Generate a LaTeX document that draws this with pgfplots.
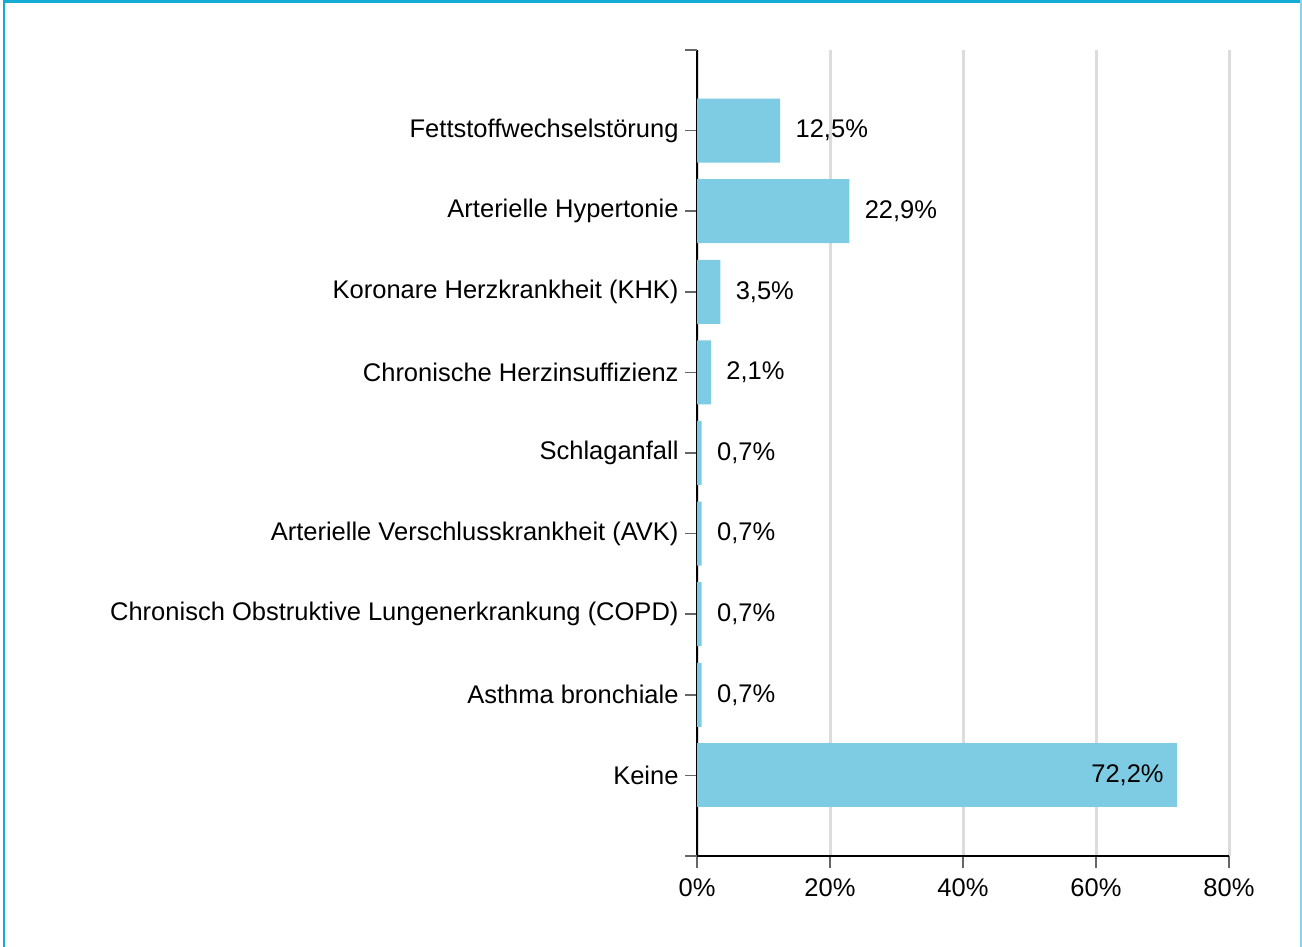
\documentclass[border=0pt]{standalone}
\usepackage{pgfplots}
\pgfplotsset{compat=1.18}
\usepackage{fontspec}
\setmainfont{Liberation Sans}
\definecolor{barblue}{RGB}{126,204,227}
\definecolor{framecol}{RGB}{20,172,212}
\definecolor{gridgray}{RGB}{220,220,220}
\begin{document}
\fontsize{10.2}{12}\selectfont
\begin{tikzpicture}
\useasboundingbox (0pt,0pt) rectangle (520.8pt,378.8pt);
\draw[framecol, line width=1.2pt] (1pt,378.2pt) -- (520.8pt,378.2pt);
\draw[framecol, line width=0.9pt] (1.6pt,0pt) -- (1.6pt,378.8pt);
\draw[framecol!50, line width=0.5pt] (520.4pt,0pt) -- (520.4pt,378.8pt);
\begin{axis}[
  at={(278.8pt,36.4pt)}, anchor=south west,
  scale only axis, width=212.8pt, height=322.4pt,
  xmin=0, xmax=80, ymin=0, ymax=10,
  xbar, bar width=25.6pt, bar shift=0pt,
  axis lines*=left,
  axis line style={black, line width=1.1pt},
  xtick={0,20,40,60,80}, xticklabels={0\%,20\%,40\%,60\%,80\%},
  ytick={1,...,9},
  yticklabels={Keine, Asthma bronchiale, Chronisch Obstruktive Lungenerkrankung (COPD), Arterielle Verschlusskrankheit (AVK), Schlaganfall, Chronische Herzinsuffizienz, Koronare Herzkrankheit (KHK), Arterielle Hypertonie, Fettstoffwechselstörung},
  extra y ticks={0,10}, extra y tick labels={},
  tick align=outside, major tick length=4.8pt,
  tick style={black!60, line width=0.6pt},
  xmajorgrids, grid style={gridgray, line width=1.2pt},
  extra y tick style={grid=none},
  y tick label style={anchor=east, inner sep=0pt, xshift=-2.4pt},
  x tick label style={anchor=north, inner sep=0pt, yshift=-4pt},
  point meta=explicit symbolic,
  nodes near coords,
  every node near coord/.style={anchor=west, inner sep=0pt, xshift=6pt, black},
]
\addplot[fill=barblue, draw=none] coordinates {
  (12.5,9) [12,5\%]
  (22.9,8) [22,9\%]
  (3.5,7) [3,5\%]
  (2.1,6) [2,1\%]
  (0.7,5) [0,7\%]
  (0.7,4) [0,7\%]
  (0.7,3) [0,7\%]
  (0.7,2) [0,7\%]
};
\addplot[fill=barblue, draw=none,
  every node near coord/.style={anchor=east, inner sep=0pt, xshift=-5.2pt, black}] coordinates {
  (72.2,1) [72,2\%]
};
\end{axis}
\end{tikzpicture}
\end{document}
